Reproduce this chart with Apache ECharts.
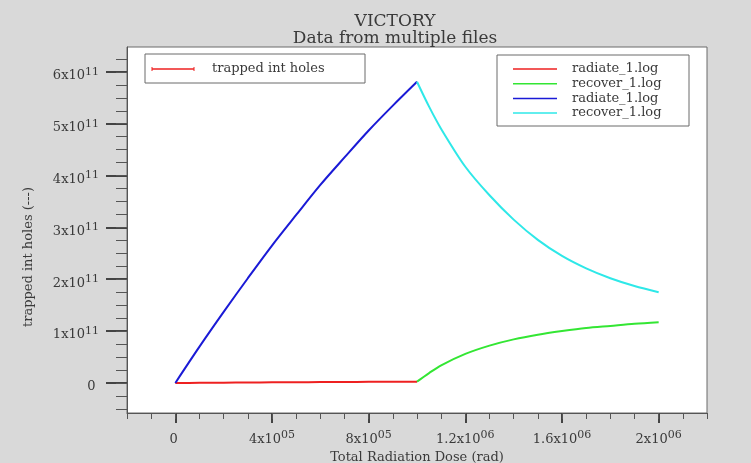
<!DOCTYPE html>
<html>
<head>
<meta charset="utf-8">
<script src="https://cdn.jsdelivr.net/npm/echarts@6/dist/echarts.min.js"></script>
<style>html,body{margin:0;padding:0;background:#d9d9d9;}#c{width:751px;height:463px;}</style>
</head>
<body>
<div id="c"></div>
<script>
// ---- data ----
const radiateDose = [0, 1e5, 2e5, 3e5, 4e5, 5e5, 6e5, 7e5, 8e5, 9e5, 1e6];
const radiateRed  = [0, 0.002e11, 0.005e11, 0.008e11, 0.011e11, 0.013e11, 0.016e11, 0.019e11, 0.021e11, 0.023e11, 0.025e11];
const radiateBlue = [0, 0.70e11, 1.37e11, 2.02e11, 2.65e11, 3.24e11, 3.82e11, 4.35e11, 4.87e11, 5.35e11, 5.81e11];
const recoverDose  = [1e6, 1.05e6, 1.1e6, 1.2e6, 1.3e6, 1.4e6, 1.5e6, 1.6e6, 1.7e6, 1.8e6, 1.9e6, 2e6];
const recoverGreen = [0.025e11, 0.19e11, 0.34e11, 0.56e11, 0.72e11, 0.84e11, 0.93e11, 1.00e11, 1.06e11, 1.10e11, 1.14e11, 1.17e11];
const recoverCyan  = [5.81e11, 5.33e11, 4.90e11, 4.17e11, 3.62e11, 3.15e11, 2.76e11, 2.45e11, 2.21e11, 2.02e11, 1.87e11, 1.75e11];

const xTickVals = [0, 4e5, 8e5, 1.2e6, 1.6e6, 2e6];
const xTickMant = ['0', '4x10', '8x10', '1.2x10', '1.6x10', '2x10'];
const xTickExp  = ['', '05', '05', '06', '06', '06'];
const yTickVals = [0, 1e11, 2e11, 3e11, 4e11, 5e11, 6e11];
const yTickMant = ['0', '1x10', '2x10', '3x10', '4x10', '5x10', '6x10'];
const yTickExp  = ['', '11', '11', '11', '11', '11', '11'];

const seriesNames = ['radiate_1.log', 'recover_1.log', 'radiate_1.log', 'recover_1.log'];
const seriesColors = ['#ee2020', '#33e633', '#1a1ad6', '#2ee8e8'];
const legend1Label = 'trapped int holes';

// ---- build ----
const FONT = 'DejaVu Serif';
const TXT = '#3a3a3a';
function pairs(xs, ys) { return xs.map((x, i) => [x, ys[i]]); }
const xMinor = []; for (let k = -2; k <= 22; k++) xMinor.push(k * 1e5);
const yMinor = []; for (let k = -2; k <= 26; k++) yMinor.push(k * 0.25e11);
function fmt(vals, mant, exp) {
  return function (v) {
    const i = vals.findIndex(t => Math.abs(t - v) < 1);
    if (i < 0) return '';
    return '{b|' + mant[i] + '}{s|' + (exp[i] || ' ') + '}';
  };
}
const rich = {
  b: { fontFamily: FONT, fontSize: 13, color: TXT, padding: [8, 0, 0, 0] },
  s: { fontFamily: FONT, fontSize: 11, color: TXT, padding: [0, 0, 0, 0] }
};
const xMin = -2e5, xMax = 2.2e6, yMin = -0.58e11, yMax = 6.48e11;

const chart = echarts.init(document.getElementById('c'));
const graphics = [
  { type: 'rect', shape: { x: 145, y: 54, width: 220, height: 29 }, style: { fill: '#fff', stroke: '#6a6a6a', lineWidth: 1 }, z: 10 },
  { type: 'line', shape: { x1: 152, y1: 69, x2: 194, y2: 69 }, style: { stroke: seriesColors[0], lineWidth: 1.5 }, z: 11 },
  { type: 'line', shape: { x1: 152, y1: 67, x2: 152, y2: 71 }, style: { stroke: seriesColors[0], lineWidth: 1 }, z: 11 },
  { type: 'line', shape: { x1: 194, y1: 67, x2: 194, y2: 71 }, style: { stroke: seriesColors[0], lineWidth: 1 }, z: 11 },
  { type: 'text', x: 212, y: 69, style: { text: legend1Label, font: '13px "' + FONT + '"', fill: TXT, verticalAlign: 'middle' }, z: 11 },
  { type: 'rect', shape: { x: 497, y: 55, width: 192, height: 71 }, style: { fill: '#fff', stroke: '#6a6a6a', lineWidth: 1 }, z: 10 }
];
seriesNames.forEach((n, i) => {
  const y = 69 + i * 14.7;
  graphics.push({ type: 'line', shape: { x1: 513, y1: y, x2: 557, y2: y }, style: { stroke: seriesColors[i], lineWidth: 1.5 }, z: 11 });
  graphics.push({ type: 'text', x: 572, y: y, style: { text: n, font: '13px "' + FONT + '"', fill: TXT, verticalAlign: 'middle' }, z: 11 });
});
const lineSeries = (i, xs, ys, z) => ({
  name: seriesNames[i], type: 'line', data: pairs(xs, ys), showSymbol: false,
  smooth: 0.3,
  lineStyle: { color: seriesColors[i], width: 2 }, itemStyle: { color: seriesColors[i] }, z: z
});
chart.setOption({
  backgroundColor: '#d9d9d9',
  animation: false,
  title: {
    text: 'VICTORY', subtext: 'Data from multiple files',
    left: 390, top: 8, textAlign: 'center', itemGap: 0,
    textStyle: { fontFamily: FONT, fontSize: 17, fontWeight: 'normal', color: TXT },
    subtextStyle: { fontFamily: FONT, fontSize: 17, color: TXT }
  },
  grid: { left: 127, top: 47, width: 580, height: 366, containLabel: false, outerBoundsMode: 'none', show: true, backgroundColor: '#ffffff', borderColor: '#6a6a6a', borderWidth: 1 },
  xAxis: [
    {
      type: 'value', min: xMin, max: xMax, position: 'bottom',
      name: 'Total Radiation Dose (rad)', nameLocation: 'middle', nameGap: 36,
      nameTextStyle: { fontFamily: FONT, fontSize: 13, color: TXT },
      axisLine: { show: true, onZero: false, lineStyle: { color: '#555', width: 1 } },
      axisTick: { show: true, inside: false, length: 10, customValues: xTickVals, lineStyle: { color: '#444', width: 2 } },
      axisLabel: { show: true, margin: 12, customValues: xTickVals, formatter: fmt(xTickVals, xTickMant, xTickExp), rich: rich },
      splitLine: { show: false }
    },
    {
      type: 'value', min: xMin, max: xMax, position: 'bottom',
      axisLine: { show: false, onZero: false },
      axisTick: { show: true, inside: false, length: 6, customValues: xMinor, lineStyle: { color: '#555', width: 1 } },
      axisLabel: { show: false }, splitLine: { show: false }
    }
  ],
  yAxis: [
    {
      type: 'value', min: yMin, max: yMax, position: 'left',
      name: 'trapped int holes (---)', nameLocation: 'middle', nameGap: 92, nameRotate: 90,
      nameTextStyle: { fontFamily: FONT, fontSize: 13, color: TXT, padding: [0, 54, 0, 0] },
      axisLine: { show: true, onZero: false, lineStyle: { color: '#555', width: 1 } },
      axisTick: { show: true, inside: false, length: 21, customValues: yTickVals, lineStyle: { color: '#444', width: 2 } },
      axisLabel: { show: true, margin: 28, customValues: yTickVals, formatter: fmt(yTickVals, yTickMant, yTickExp), rich: rich },
      splitLine: { show: false }
    },
    {
      type: 'value', min: yMin, max: yMax, position: 'left',
      axisLine: { show: false, onZero: false },
      axisTick: { show: true, inside: false, length: 11, customValues: yMinor, lineStyle: { color: '#555', width: 1 } },
      axisLabel: { show: false }, splitLine: { show: false }
    }
  ],
  series: [
    lineSeries(0, radiateDose, radiateRed, 3),
    lineSeries(1, recoverDose, recoverGreen, 3),
    lineSeries(2, radiateDose, radiateBlue, 4),
    lineSeries(3, recoverDose, recoverCyan, 4)
  ],
  graphic: graphics
});
</script>
</body>
</html>
